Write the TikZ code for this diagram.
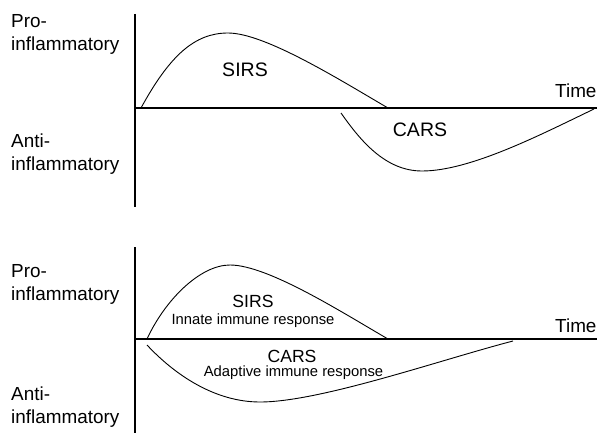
\documentclass[tikz,border=0pt]{standalone}
\usepackage{fontspec}
\setmainfont{Liberation Sans}
\begin{document}
\begin{tikzpicture}[x=1pt,y=-1pt,
  axis/.style={line width=2.6pt},
  curve/.style={line width=0.9pt},
  side/.style={anchor=base west,inner sep=0pt,font=\fontsize{18.9}{23}\selectfont},
  bigtag/.style={anchor=base,inner sep=0pt,font=\fontsize{19.5}{23}\selectfont},
  midtag/.style={anchor=base,inner sep=0pt,font=\fontsize{17.6}{21}\selectfont},
  smalltag/.style={anchor=base,inner sep=0pt,font=\fontsize{14.8}{18}\selectfont}]
\useasboundingbox (0,0) rectangle (597,433);

% ---- upper panel ----
\coordinate (t0) at (135,108);
\coordinate (ttop) at (135,14);
\coordinate (tbot) at (135,207);
\coordinate (tend) at (597,108);
\draw[axis] (ttop) -- (tbot);
\draw[axis] (t0) -- (tend);

\draw[curve] (141,108) .. controls (170,55) and (195,33) .. (228,33)
  .. controls (265,33) and (340,80) .. (388,108);
\draw[curve] (341,113) .. controls (360,140) and (385,171) .. (422,171)
  .. controls (470,171) and (540,135) .. (594,109);

\node[side] (tpro) at (11,28) {Pro-};
\node[side] (tproi) at (11,51) {inflammatory};
\node[side] (tanti) at (11,148) {Anti-};
\node[side] (tantii) at (11,171) {inflammatory};
\node[bigtag] (tsirs) at (245,77) {SIRS};
\node[bigtag] (tcars) at (420,137) {CARS};
\node[side] (ttime) at (555,98) {Time};

% ---- lower panel ----
\coordinate (b0) at (135,339);
\coordinate (btop) at (135,247);
\coordinate (bbot) at (135,433);
\coordinate (bend) at (597,339);
\draw[axis] (btop) -- (bbot);
\draw[axis] (b0) -- (bend);

\draw[curve] (147,339) .. controls (165,300) and (200,265) .. (230,265)
  .. controls (268,265) and (343,313) .. (388,339);
\draw[curve] (147,345) .. controls (175,375) and (215,402) .. (260,402)
  .. controls (320,402) and (440,360) .. (513,341);

\node[side] (bpro) at (11,277) {Pro-};
\node[side] (bproi) at (11,300) {inflammatory};
\node[side] (banti) at (11,400) {Anti-};
\node[side] (bantii) at (11,423) {inflammatory};
\node[midtag] (bsirs) at (253,307) {SIRS};
\node[smalltag] (binnate) at (253,324) {Innate immune response};
\node[midtag] (bcars) at (292,362) {CARS};
\node[smalltag] (badapt) at (293.5,376) {Adaptive immune response};
\node[side] (btime) at (555,332) {Time};
\end{tikzpicture}
\end{document}
